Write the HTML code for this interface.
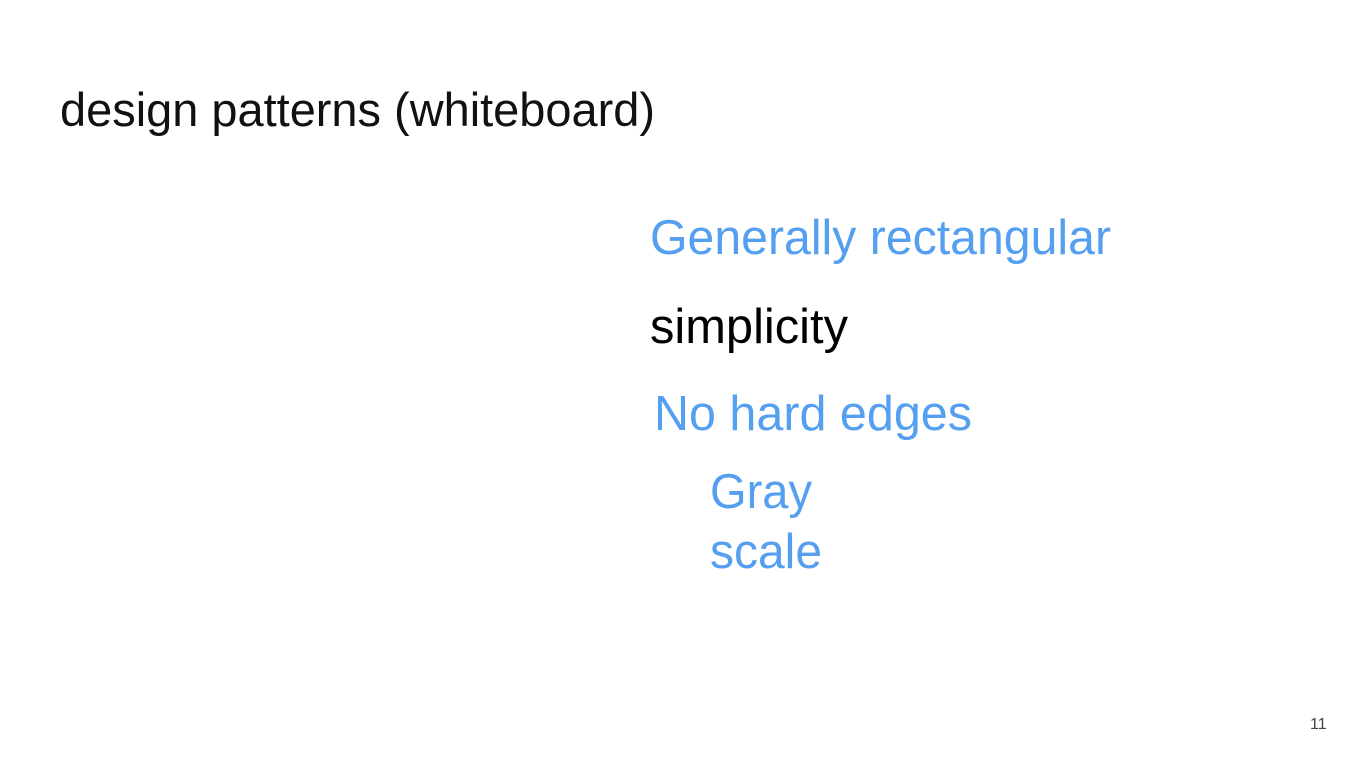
<!DOCTYPE html>
<html><head><meta charset="utf-8"><style>
html,body{margin:0;padding:0;background:#fff;}
svg{display:block;}
text{font-family:"Liberation Sans",sans-serif;}
</style></head><body>
<svg width="1360" height="765" viewBox="0 0 1360 765">
<rect width="1360" height="765" fill="#fff"/>
<text x="60" y="126" font-size="47" fill="#111" textLength="595" lengthAdjust="spacingAndGlyphs">design patterns (whiteboard)</text>
<text x="650" y="254" font-size="49" fill="#549ff0" textLength="461" lengthAdjust="spacingAndGlyphs">Generally rectangular</text>
<text x="650" y="343" font-size="49" fill="#000" textLength="198" lengthAdjust="spacingAndGlyphs">simplicity</text>
<text x="654" y="430" font-size="49" fill="#549ff0" textLength="318" lengthAdjust="spacingAndGlyphs">No hard edges</text>
<text x="710" y="508" font-size="49" fill="#549ff0" textLength="102" lengthAdjust="spacingAndGlyphs">Gray</text>
<text x="710" y="568" font-size="49" fill="#549ff0" textLength="112" lengthAdjust="spacingAndGlyphs">scale</text>
<text x="1310" y="729" font-size="16" fill="#444">11</text>
</svg>
</body></html>
